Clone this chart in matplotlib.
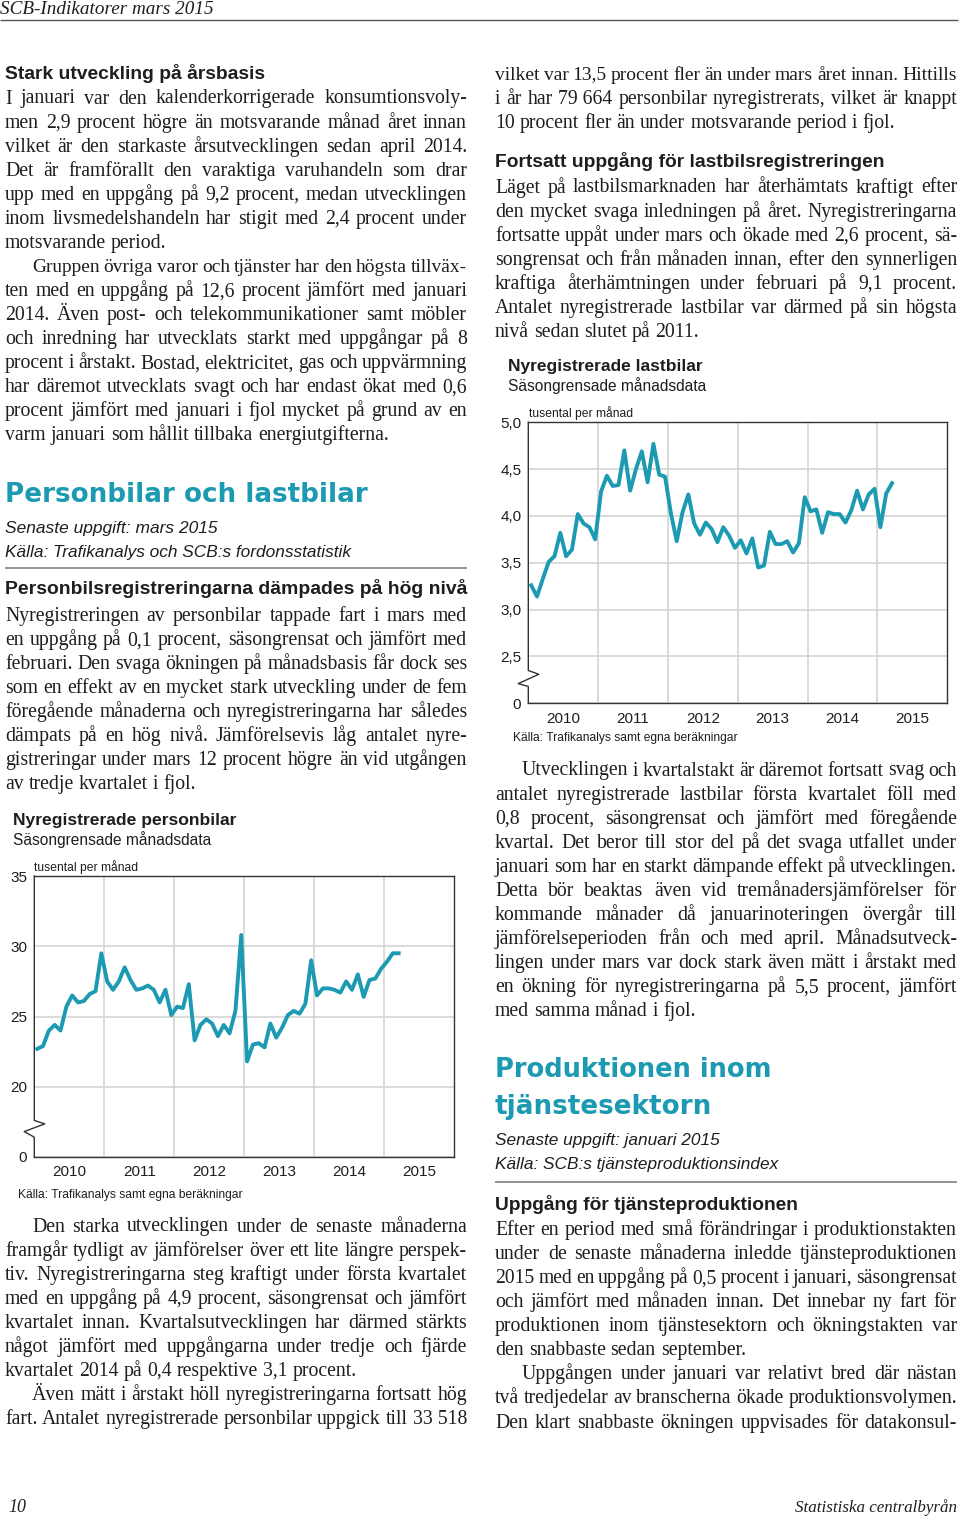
import numpy as np
import pandas as pd
import matplotlib
matplotlib.use('Agg')
import matplotlib.pyplot as plt
from matplotlib.font_manager import FontProperties

plt.rcParams['font.family'] = ['Liberation Sans', 'DejaVu Sans']

W, H = 960, 1520
TEAL = '#1b9ab1'
INK = '#1e1e1e'
SERIF = 'Liberation Serif'
SANS = 'Liberation Sans'
BODY = 14.2
LEAD = 24.07
COL = 462

# ---- chart data (tusental per månad, säsongrensat, jan 2010 - mars 2015)
months = pd.date_range('2010-01-01', '2015-03-01', freq='MS')
personbilar = [22.7, 22.9, 24.0, 24.4, 24.0, 25.7, 26.5, 26.0, 26.1, 26.6, 26.8, 29.5,
               27.5, 26.9, 27.5, 28.5, 27.6, 26.9, 27.0, 27.2, 26.9, 26.0, 26.9, 25.1,
               25.7, 25.6, 27.3, 23.3, 24.4, 24.8, 24.5, 23.6, 24.4, 23.8, 25.4, 30.8,
               21.8, 23.0, 23.1, 22.8, 24.5, 23.5, 24.2, 25.1, 25.4, 25.2, 25.9, 29.0,
               26.5, 27.0, 27.0, 26.9, 26.7, 27.5, 26.9, 28.0, 26.4, 27.6, 27.7, 28.4,
               28.9, 29.5, 29.5]
lastbilar = [3.26, 3.14, 3.33, 3.51, 3.57, 3.82, 3.57, 3.64, 4.02, 3.92, 3.88, 3.75,
             4.26, 4.43, 4.32, 4.33, 4.70, 4.27, 4.50, 4.69, 4.36, 4.77, 4.44, 4.42,
             4.03, 3.73, 4.04, 4.23, 3.92, 3.80, 3.93, 3.86, 3.72, 3.88, 3.79, 3.66,
             3.74, 3.60, 3.76, 3.45, 3.47, 3.83, 3.70, 3.70, 3.73, 3.61, 3.71, 4.20,
             4.05, 4.07, 3.82, 4.04, 4.02, 4.02, 3.93, 4.06, 4.27, 4.07, 4.23, 4.29,
             3.88, 4.24, 4.35]
years = [2010, 2011, 2012, 2013, 2014, 2015]
pb_ticks = [15, 20, 25, 30, 35]
pb_labels = ['0', '20', '25', '30', '35']
lb_ticks = [2.0, 2.5, 3.0, 3.5, 4.0, 4.5, 5.0]
lb_labels = ['0', '2,5', '3,0', '3,5', '4,0', '4,5', '5,0']

# ---- text
paraA = ["I januari var den kalenderkorrigerade konsumtionsvoly-",
         "men 2,9 procent högre än motsvarande månad året innan",
         "vilket är den starkaste årsutvecklingen sedan april 2014.",
         "Det är framförallt den varaktiga varuhandeln som drar",
         "upp med en uppgång på 9,2 procent, medan utvecklingen",
         "inom livsmedelshandeln har stigit med 2,4 procent under",
         "motsvarande period."]
paraB = ["Gruppen övriga varor och tjänster har den högsta tillväx-",
         "ten med en uppgång på 12,6 procent jämfört med januari",
         "2014. Även post- och telekommunikationer samt möbler",
         "och inredning har utvecklats starkt med uppgångar på 8",
         "procent i årstakt. Bostad, elektricitet, gas och uppvärmning",
         "har däremot utvecklats svagt och har endast ökat med 0,6",
         "procent jämfört med januari i fjol mycket på grund av en",
         "varm januari som hållit tillbaka energiutgifterna."]
paraC = ["Nyregistreringen av personbilar tappade fart i mars med",
         "en uppgång på 0,1 procent, säsongrensat och jämfört med",
         "februari. Den svaga ökningen på månadsbasis får dock ses",
         "som en effekt av en mycket stark utveckling under de fem",
         "föregående månaderna och nyregistreringarna har således",
         "dämpats på en hög nivå. Jämförelsevis låg antalet nyre-",
         "gistreringar under mars 12 procent högre än vid utgången",
         "av tredje kvartalet i fjol."]
paraD = ["Den starka utvecklingen under de senaste månaderna",
         "framgår tydligt av jämförelser över ett lite längre perspek-",
         "tiv. Nyregistreringarna steg kraftigt under första kvartalet",
         "med en uppgång på 4,9 procent, säsongrensat och jämfört",
         "kvartalet innan. Kvartalsutvecklingen har därmed stärkts",
         "något jämfört med uppgångarna under tredje och fjärde",
         "kvartalet 2014 på 0,4 respektive 3,1 procent."]
paraE = ["Även mätt i årstakt höll nyregistreringarna fortsatt hög",
         "fart. Antalet nyregistrerade personbilar uppgick till 33\u00a0518"]
paraF = ["vilket var 13,5 procent fler än under mars året innan. Hittills",
         "i år har 79\u00a0664 personbilar nyregistrerats, vilket är knappt",
         "10 procent fler än under motsvarande period i fjol."]
paraG = ["Läget på lastbilsmarknaden har återhämtats kraftigt efter",
         "den mycket svaga inledningen på året. Nyregistreringarna",
         "fortsatte uppåt under mars och ökade med 2,6 procent, sä-",
         "songrensat och från månaden innan, efter den synnerligen",
         "kraftiga återhämtningen under februari på 9,1 procent.",
         "Antalet nyregistrerade lastbilar var därmed på sin högsta",
         "nivå sedan slutet på 2011."]
paraH = ["Utvecklingen i kvartalstakt är däremot fortsatt svag och",
         "antalet nyregistrerade lastbilar första kvartalet föll med",
         "0,8 procent, säsongrensat och jämfört med föregående",
         "kvartal. Det beror till stor del på det svaga utfallet under",
         "januari som har en starkt dämpande effekt på utvecklingen.",
         "Detta bör beaktas även vid tremånadersjämförelser för",
         "kommande månader då januarinoteringen övergår till",
         "jämförelseperioden från och med april. Månadsutveck-",
         "lingen under mars var dock stark även mätt i årstakt med",
         "en ökning för nyregistreringarna på 5,5 procent, jämfört",
         "med samma månad i fjol."]
paraI = ["Efter en period med små förändringar i produktionstakten",
         "under de senaste månaderna inledde tjänsteproduktionen",
         "2015 med en uppgång på 0,5 procent i januari, säsongrensat",
         "och jämfört med månaden innan. Det innebar ny fart för",
         "produktionen inom tjänstesektorn och ökningstakten var",
         "den snabbaste sedan september."]
paraJ = ["Uppgången under januari var relativt bred där nästan",
         "två tredjedelar av branscherna ökade produktionsvolymen.",
         "Den klart snabbaste ökningen uppvisades för datakonsul-"]

fig = plt.figure(figsize=(9.6, 15.2), dpi=100)
page = fig.add_axes([0, 0, 1, 1])
page.set_xlim(0, W)
page.set_ylim(H, 0)
page.axis('off')
R = fig.canvas.get_renderer()


def fprop(family, size, weight='normal', style='normal'):
    return FontProperties(family=family, size=size, weight=weight, style=style)


def twidth(s, prop):
    return R.get_text_width_height_descent(s, prop, ismath=False)[0]


def put(x, y, s, family=SANS, size=12, weight='normal', style='normal',
        fit=None, ha='left', color=INK):
    prop = fprop(family, size, weight, style)
    if fit:
        prop.set_size(size * fit / twidth(s, prop))
    page.text(x, y, s, fontproperties=prop, ha=ha, va='baseline', color=color)


def para(x0, y0, lines, indent=False, last_full=False):
    for k, line in enumerate(lines):
        prop = fprop(SERIF, BODY)
        y = y0 + k * LEAD
        x = x0 + (27 if indent and k == 0 else 0)
        avail = x0 + COL - x
        words = line.split(' ')
        sp = twidth('a a', prop) - twidth('aa', prop)
        ws = [twidth(w, prop) for w in words]
        natural = sum(ws) + (len(words) - 1) * sp * 0.8
        if natural > avail:
            # too long for the column: shrink this line a little
            prop.set_size(BODY * avail / natural)
            sp = twidth('a a', prop) - twidth('aa', prop)
            ws = [twidth(w, prop) for w in words]
        last = (k == len(lines) - 1) and not last_full
        if last or len(words) == 1:
            gap = sp
        else:
            gap = (avail - sum(ws)) / (len(words) - 1)
        for w, wd in zip(words, ws):
            page.text(x, y, w, fontproperties=prop, va='baseline', color=INK)
            x += wd + gap


def rule(x0, x1, y, color='#777777', lw=1.1):
    page.plot([x0, x1], [y, y], color=color, lw=lw, solid_capstyle='butt')


# header / footer
put(0, 13.5, 'SCB-Indikatorer mars 2015', SERIF, 13, style='italic', fit=212)
rule(0, 958, 19.5, '#555555', 1.0)
put(8, 1512, '10', SERIF, 13, style='italic', fit=18)
put(957, 1512, 'Statistiska centralbyrån', SERIF, 13, style='italic', fit=161, ha='right')

# left column
put(5, 79, 'Stark utveckling på årsbasis', weight='bold', size=13, fit=260)
para(5, 103.5, paraA)
para(5, 103.5 + 7 * LEAD, paraB, indent=True)
put(5, 502, 'Personbilar och lastbilar', 'DejaVu Sans', 20, weight='bold', fit=361, color=TEAL)
put(5, 533, 'Senaste uppgift: mars 2015', size=12, style='italic', fit=212)
put(5, 557.5, 'Källa: Trafikanalys och SCB:s fordonsstatistik', size=12, style='italic', fit=347)
rule(5, 467, 568)
put(5, 594.5, 'Personbilsregistreringarna dämpades på hög nivå', weight='bold', size=13, fit=460)
para(5, 621, paraC)
para(5, 1231.5, paraD, indent=True)
para(5, 1231.5 + 7 * LEAD, paraE, indent=True, last_full=True)

# right column
para(495, 79.5, paraF)
put(495, 167, 'Fortsatt uppgång för lastbilsregistreringen', weight='bold', size=13, fit=390)
para(495, 192.5, paraG)
para(495, 775.5, paraH, indent=True)
put(495, 1077, 'Produktionen inom', 'DejaVu Sans', 20, weight='bold', fit=277, color=TEAL)
put(495, 1114, 'tjänstesektorn', 'DejaVu Sans', 20, weight='bold', fit=217, color=TEAL)
put(495, 1145, 'Senaste uppgift: januari 2015', size=12, style='italic', fit=225)
put(495, 1169.5, 'Källa: SCB:s tjänsteproduktionsindex', size=12, style='italic', fit=283)
rule(495, 957, 1182)
put(495, 1210, 'Uppgång för tjänsteproduktionen', weight='bold', size=13, fit=303)
para(495, 1235, paraI)
para(495, 1235 + 6 * LEAD, paraJ, indent=True, last_full=True)


def chart(left, top, right, bottom, values, ticks, labels, brk):
    ax = fig.add_axes([left / W, 1 - bottom / H, (right - left) / W, (bottom - top) / H])
    x = months.year + (months.month - 0.5) / 12
    ax.plot(x, values, color=TEAL, lw=2.8, solid_joinstyle='round', zorder=3)
    ax.set_xlim(years[0], years[-1] + 1)
    ax.set_ylim(ticks[0], ticks[-1])
    ax.set_xticks([y + 0.5 for y in years], [str(y) for y in years])
    ax.set_xticks(years[1:], minor=True)
    ax.set_yticks(ticks, labels)
    ax.grid(which='minor', axis='x', color='#d4d4d4', lw=1.2)
    ax.grid(which='major', axis='y', color='#d4d4d4', lw=1.2)
    ax.set_axisbelow(True)
    ax.tick_params(which='both', length=0, labelsize=11, colors=INK)
    ax.tick_params(axis='x', pad=6)
    ax.tick_params(axis='y', pad=5)
    for s in ['top', 'right', 'bottom']:
        ax.spines[s].set_color('#333333')
        ax.spines[s].set_linewidth(1.0)
    ax.spines['left'].set_visible(False)
    y0, y1, y2, y3 = brk
    ax.plot([0, 0, 0.025, -0.024, 0, 0], [ticks[-1], y0, y1, y2, y3, ticks[0]],
            color='#333333', lw=1.0, transform=ax.get_yaxis_transform(), clip_on=False)
    return ax


# chart 1
put(13, 825, 'Nyregistrerade personbilar', weight='bold', size=12, fit=222)
put(13, 845.5, 'Säsongrensade månadsdata', size=12, fit=199)
put(34.5, 870.5, 'tusental per månad', size=9, fit=104)
chart(34.3, 876, 454, 1157, personbilar, pb_ticks, pb_labels, (17.6, 17.36, 16.81, 16.41))
put(18.5, 1198, 'Källa: Trafikanalys samt egna beräkningar', size=9, fit=226)

# chart 2
put(507.5, 370.5, 'Nyregistrerade lastbilar', weight='bold', size=12, fit=193)
put(507.5, 391.5, 'Säsongrensade månadsdata', size=12, fit=199)
put(529, 416.5, 'tusental per månad', size=9, fit=104)
chart(528.3, 422.3, 947.3, 703.3, lastbilar, lb_ticks, lb_labels, (2.35, 2.31, 2.21, 2.18))
put(512.7, 741.5, 'Källa: Trafikanalys samt egna beräkningar', size=9, fit=226)

fig.savefig('out.png', dpi=100)
